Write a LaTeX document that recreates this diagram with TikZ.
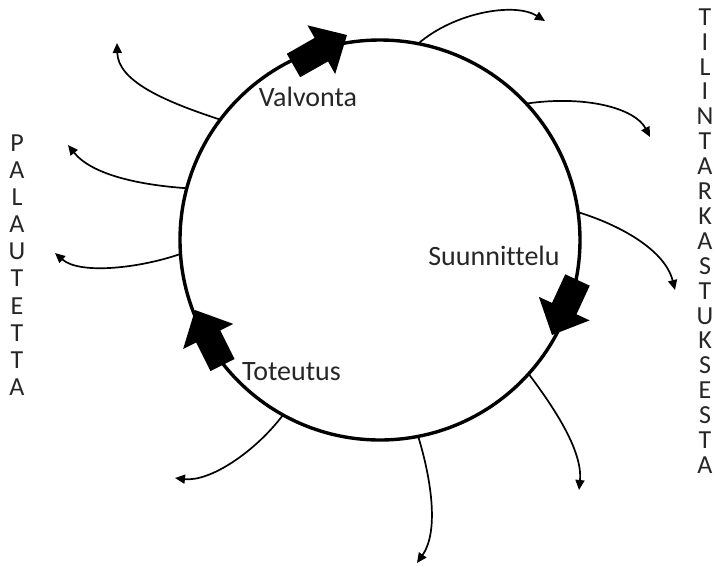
\documentclass[tikz,border=0pt]{standalone}
\usepackage{fontspec}
\setmainfont{Carlito}[Ligatures=NoCommon]
\usetikzlibrary{calc,arrows.meta}
\newcommand\blockarr[3]{%
  \coordinate (#1t) at #2;
  \coordinate (#1p) at #3;
  \coordinate (#1n) at ($(#1t)!0.52!(#1p)$);
  \fill[black] ($(#1t)!13.5pt!90:(#1p)$) -- ($(#1n)!13.5pt!90:(#1p)$) -- ($(#1n)!28pt!90:(#1p)$) -- (#1p)
    -- ($(#1n)!28pt!-90:(#1p)$) -- ($(#1n)!13.5pt!-90:(#1p)$) -- ($(#1t)!13.5pt!-90:(#1p)$) -- cycle;
}
\tikzset{
  fb/.style={line width=1.7pt, -{Triangle[length=10pt,width=9pt]}},
  lbl/.style={font=\fontsize{28}{30}\selectfont, text=black!85, inner sep=0pt},
  vert/.style={align=center, inner sep=0pt, text=black!85},
}
\begin{document}
\begin{tikzpicture}[x=1pt,y=-1pt]
\useasboundingbox (0,0) rectangle (718,566);
\node[draw, circle, minimum size=400pt, line width=3.4pt, inner sep=0pt, outer sep=0pt] (cyc) at (380,240) {};

% feedback arrows
\coordinate (e1) at (545,21);
\coordinate (e2) at (650,137);
\coordinate (e3) at (675,290);
\coordinate (e4) at (579,490);
\coordinate (e5) at (417,563);
\coordinate (e6) at (175,478);
\coordinate (e7) at (55,253);
\coordinate (e8) at (68,145);
\coordinate (e9) at (117,43);
\draw[fb] (cyc.79.7) .. controls (455,12) and (515,2) .. (e1);
\draw[fb] (cyc.43.6) .. controls (585,95) and (635,108) .. (e2);
\draw[fb] (cyc.8.7) .. controls (620,225) and (665,250) .. (e3);
\draw[fb] (cyc.-42.3) .. controls (552,405) and (583,450) .. (e4);
\draw[fb] (cyc.-79.3) .. controls (430,475) and (440,530) .. (e5);
\draw[fb] (cyc.241.3) .. controls (255,452) and (210,482) .. (e6);
\draw[fb] (cyc.184.3) .. controls (140,268) and (80,275) .. (e7);
\draw[fb] (cyc.165.2) .. controls (140,185) and (92,175) .. (e8);
\draw[fb] (cyc.143.6) .. controls (160,100) and (118,80) .. (e9);

% block arrows
\blockarr{ba}{(293.5,65.5)}{(347,35)}
\blockarr{bb}{(577.5,280)}{(552,335)}
\blockarr{bc}{(222.5,365)}{(195,310)}

% labels
\node[lbl] (valv) at (308,97) {Valvonta};
\node[lbl] (suun) at (494,256) {Suunnittelu};
\node[lbl] (tote) at (291.5,372) {Toteutus};

\node[vert, font=\fontsize{26}{27.1}\selectfont] (pal) at (17,265)
  {P\\A\\L\\A\\U\\T\\E\\T\\T\\A};
\node[vert, font=\fontsize{26}{24.9}\selectfont] (til) at (705,241)
  {T\\I\\L\\I\\N\\T\\A\\R\\K\\A\\S\\T\\U\\K\\S\\E\\S\\T\\A};
\end{tikzpicture}
\end{document}
